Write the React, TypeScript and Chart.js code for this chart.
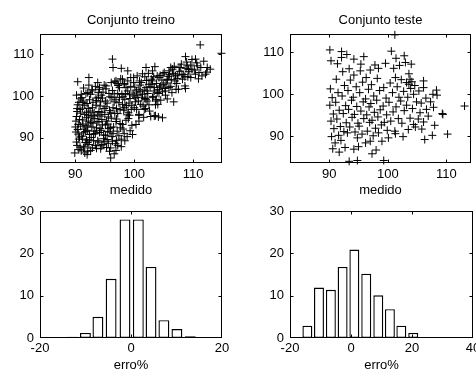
import React, { useEffect, useRef } from 'react';
import { Chart, registerables } from 'chart.js';

Chart.register(...registerables);

// ---------- data ----------
const trainPoints: [number, number][] = [
  [111.2,112.2],[114.8,110.2],[96.3,108.8],[96.4,106.8],[97.8,106.6],[98.9,106],[90.4,103.4],[92.3,104.4],[102,106.8],[103.5,107],
  [106.7,98.6],[108.7,101.8],[112.9,106.4],[111.5,104.8],[110.4,108.8],[108.7,109.4],[103.4,95.2],[104.8,94.8],[100.8,94],[99.7,90.8],
  [96.9,87],[96,85.2],[89.9,86.4],[92.1,86.8],[95.8,86.8],[103.7,99.2],[105.3,100.2],[107.1,101.6],
  [105.1,105.6],[106.2,106.8],[107.6,106.8],[109,107.2],[109.8,106.4],[110.4,105.2],[109.6,104.4],[108.1,105.2],[107,104.8],[105.6,104],
  [104.2,104.4],[103.1,103.6],[102.5,102.8],[103.4,102],[104.5,102.4],[105.9,102],[105.3,101.2],[103.9,100.8],[102.2,101.2],[100.8,101.6],
  [101.4,100.4],[100.3,99.6],[102,99.2],[103.1,99.6],[101.1,98],[100,97.2],[101.7,96.8],[100.8,95.6],[103.7,98.8],[104,98],
  [111,105.6],[112.1,105.2],[110.7,107.2],[112.4,106.8],
  [95.2,102.4],[96.1,103.2],[96.9,103.6],[98,104],[98.9,103.6],[99.4,104.4],[98.3,102.8],[97.5,102],[94.1,102],[92.9,101.2],[92.1,100.8],[91,100.4],[91.3,98.8],
  [90.2,95.1],[90.5,93.2],[90.1,91.4],[90.6,89.7],[90.3,88.2],[90.8,96.8],[90.4,97.9],[90.9,99.3],[91.2,94.3],[91.5,92.1],
  [91.1,90.4],[91.7,88.9],[91.4,87.6],[91.9,96.1],[91.3,98.4],[91.8,100.6],[92.2,95.4],[92.6,93.7],[92.1,91.8],[92.7,90.1],
  [92.3,88.4],[92.9,97.2],[92.4,99.1],[92.8,101.5],[93.3,94.6],[93.6,92.4],[93.1,90.9],[93.8,89.3],[93.5,97.8],[93.2,96.0],
  [93.9,99.7],[93.4,102.3],[94.2,95.2],[94.6,93.1],[94.1,91.3],[94.8,89.8],[94.4,88.1],[94.9,97.0],[94.3,98.6],[94.7,100.9],
  [95.3,94.0],[95.7,92.2],[95.1,90.6],[95.8,96.5],[95.4,98.3],[95.9,99.8],[95.2,101.7],[95.6,88.7],
  [90.0,92.6],[90.7,94.4],[90.3,96.3],[90.9,92.8],[90.5,90.9],[91.0,86.9],[91.6,95.6],[91.2,97.1],[91.8,93.0],[91.4,91.2],
  [91.9,89.5],[92.0,98.2],[92.5,96.4],[92.2,94.0],[92.8,92.6],[92.4,89.5],[92.9,87.6],[93.0,95.3],[93.7,93.8],[93.2,91.6],
  [93.6,98.9],[93.9,100.8],[94.0,96.3],[94.5,94.4],[94.2,92.2],[94.8,90.7],[94.6,99.5],[94.1,101.6],[95.0,95.6],[95.5,93.3],
  [95.2,97.4],[95.9,91.4],[95.4,89.6],[90.6,98.5],[91.1,99.6],[90.2,100.2],[92.6,100.4],[93.8,103.2],[94.9,102.6],[90.8,87.8],
  [91.6,86.4],[93.4,88.2],[94.3,87.4],[92.0,86.0],
  [96.1,94.7],[96.5,92.6],[96.2,90.3],[96.8,88.6],[96.4,97.2],[96.9,99.1],[96.3,101.3],[96.7,103.4],[97.2,95.8],[97.6,93.4],
  [97.1,91.6],[97.8,89.7],[97.4,98.4],[97.9,100.4],[97.3,102.5],[97.7,104.1],[98.2,96.6],[98.6,94.2],[98.1,92.1],[98.8,90.3],
  [98.4,99.2],[98.9,101.2],[98.3,103.0],[98.7,97.7],[99.2,95.4],[99.6,93.0],[99.1,98.3],[99.8,100.7],[99.4,102.3],[99.5,96.8],
  [96.0,96.0],[96.6,98.6],[97.0,97.0],[97.5,99.6],[98.0,98.0],[98.5,100.6],[96.3,89.2],[97.2,88.2],[97.8,87.9],[96.6,86.2],
  [98.3,91.0],[99.0,94.6],[99.3,91.7],[96.9,93.9],[97.7,92.4],
  [100.2,98.6],[100.6,100.2],[100.1,102.1],[100.9,103.6],[100.4,96.8],[100.8,95.4],[101.3,99.7],[101.7,101.4],[101.2,103.2],[101.8,104.6],
  [101.5,97.6],[102.3,100.6],[102.7,102.3],[102.2,98.8],[102.9,104.0],[102.6,96.4],[103.4,101.2],[103.8,103.0],[103.2,99.9],[103.9,104.8],
  [103.6,97.9],[104.3,102.1],[104.7,103.8],[104.2,100.6],[104.9,105.3],[104.5,99.0],[100.0,100.0],[101.0,101.0],[102.0,102.0],[103.0,102.8],
  [100.5,104.8],[101.4,105.3],[99.9,104.4],[102.4,105.4],[103.1,106.0],[100.3,93.2],[101.6,94.9],[102.8,95.1],[103.6,95.3],[104.1,95.0],
  [105.4,103.1],[105.8,104.7],[105.2,101.8],[105.9,106.0],[106.3,103.9],[106.7,105.4],[106.2,102.3],[106.8,107.1],[107.3,104.2],[107.7,105.9],
  [107.2,103.0],[107.9,106.8],[108.4,105.1],[108.8,106.6],[108.2,104.0],[108.9,108.1],[109.3,105.8],[109.6,107.4],[109.1,104.6],[109.8,108.7],
  [105.6,99.3],[106.4,100.8],[107.5,101.6],[108.6,102.4],[110.2,106.2],[110.6,107.9],[111.3,106.8],[111.8,108.3],[110.9,104.1],[112.3,105.7],
  [90.1,94.0],[90.4,92.0],[90.7,90.2],[90.2,89.0],[90.6,87.2],[90.9,95.9],[90.3,97.0],[91.3,93.3],[91.7,91.5],[91.2,89.7],
  [91.5,88.0],[91.9,94.8],[91.6,97.8],[92.0,92.6],[92.4,90.8],[92.1,88.9],[92.6,87.0],[92.7,95.0],[92.2,97.0],[93.0,93.5],
  [93.4,91.0],[93.1,89.3],[93.6,87.5],[93.8,95.5],[93.5,99.5],[94.0,93.9],[94.4,91.8],[94.0,89.0],[94.7,88.4],[94.5,96.1],
  [94.2,97.6],[95.1,93.1],[95.5,91.5],[95.0,89.2],[95.3,87.7],[95.6,95.0],[95.1,98.8],[96.0,92.5],[96.4,91.0],[96.0,87.6],
  [96.7,95.8],[96.2,99.6],[97.0,94.5],[97.4,90.5],[97.0,89.4],[97.6,96.8],[97.2,100.6],[98.0,93.2],[98.4,89.3],[98.8,95.5],
  [98.1,99.8],[99.0,96.0],[99.3,99.4],[99.6,97.8],[96.6,100.5],[95.7,100.6],[94.4,100.2],[93.0,98.5],[92.3,102.6],[91.4,101.9],
  [97.1,103.0],[98.6,102.0],[99.9,103.2],[100.7,98.8],[101.9,97.0],[102.5,97.9],[101.0,102.6],[102.1,103.7],[103.3,104.6],[104.0,101.5],
  [104.8,101.0],[105.0,102.7],[105.6,103.8],[106.0,105.1],[106.9,103.6],[107.4,105.0],[108.0,107.6],[108.6,104.6],[109.2,106.3],[104.4,104.9],
  [106.5,106.4],[101.8,99.4],[100.4,101.2],[99.2,100.3],[98.4,97.2]
];

const testPoints: [number, number][] = [
  [90.1,110.6],[92.1,110.2],[101.2,114.2],[90.3,108],[92.1,108.8],[94.2,108.4],[95.9,109],[95.4,107.2],[97.8,107],[99.6,107.4],
  [101.4,108.6],[103,107.6],[113.1,97.2],[109.3,95.4],[107.7,100],[108.4,99.8],[106.1,103.2],[106.1,93.4],[107.6,90.2],[106.3,89.2],
  [97.3,85.8],[93.4,84],[94.8,84.2],[99.3,84.2],[91.7,86.2],[90.6,87],[103.2,102.8],[103.6,102.4],[101.3,104],[106.1,101.6],
  [104.4,100],[103.2,97.4],[105.5,95.6],[106.6,96.4],[104.4,92.8],[103.5,91.6],[101.3,90.6],[101.2,91.2],[100.1,89.6],[99,88.8],
  [97,88.8],[94.8,89.6],[93.1,90.8],
  [90.2,101.3],[90.5,99.2],[90.1,97.4],[90.7,95.3],[90.3,93.6],[90.8,91.8],[90.4,89.9],[91.2,103.6],[91.5,100.4],[91.1,98.1],
  [91.7,96.2],[91.3,94.1],[91.9,92.3],[91.6,90.2],[91.0,88.4],[92.3,105.4],[92.6,102.1],[92.2,99.6],[92.8,97.3],[92.4,95.4],
  [92.9,93.2],[92.5,91.1],[92.0,89.0],[92.7,87.3],[93.4,106.1],[93.6,103.4],[93.2,100.9],[93.8,98.6],[93.3,96.4],[93.9,94.5],
  [93.5,92.2],[94.2,104.6],[94.6,101.8],[94.1,99.3],[94.7,97.1],[94.3,95.2],[94.9,93.1],[94.4,91.0],[95.3,105.6],[95.7,102.9],
  [95.2,100.4],[95.8,98.2],[95.4,96.0],[95.9,94.2],[95.1,92.4],[95.6,90.5],[96.3,104.0],[96.7,101.2],[96.2,98.9],[96.8,97.0],
  [96.4,95.1],[96.9,93.3],[96.5,91.2],[97.2,102.3],[97.6,99.6],[97.1,97.8],[97.7,95.7],[97.3,93.8],[97.9,91.9],[97.5,90.1],
  [98.2,103.8],[98.6,100.9],[98.1,98.6],[98.7,96.3],[98.3,94.6],[98.9,92.7],[98.4,90.8],[99.3,101.6],[99.7,99.1],[99.2,97.2],
  [99.8,95.1],[99.4,93.3],[99.9,91.4],[95.0,87.5],[96.2,88.4],[98.0,86.7],[94.2,86.9],[97.0,105.8],[98.4,106.2],[93.0,109.5],[91.4,107.3],
  [100.4,102.7],[100.8,100.4],[100.2,98.1],[100.9,95.8],[100.5,93.6],[101.6,101.8],[101.9,99.3],[101.4,97.0],[101.8,94.2],[102.3,103.5],
  [102.7,100.7],[102.2,98.4],[102.8,96.1],[102.4,93.1],[102.6,89.9],[103.6,104.9],[103.9,101.4],[103.4,99.3],[103.8,94.3],[104.6,102.1],
  [104.9,98.2],[104.2,96.6],[104.7,92.2],[105.3,100.8],[105.7,97.9],[105.2,94.1],[105.8,91.7],[106.5,99.1],[106.9,94.8],[107.3,98.2],
  [107.8,96.9],[108.3,101.0],[109.4,95.2],[110.2,90.5],[108.0,92.6],[101.0,106.2],[102.0,106.9],[104.0,107.2],[100.6,110.3],[102.8,109.2],
  [103.8,103.6],[104.1,103.0]
];

const histTrainCenters = [-12.84, -10.02, -7.27, -4.37, -1.32, 1.61, 4.4, 7.23, 10.09, 13.03];
const histTrainCounts = [0.3, 1.2, 5.0, 14.0, 28.0, 28.0, 16.8, 4.2, 2.1, 0.4];
const histTestCenters = [-14.3, -10.5, -6.6, -2.75, 1.1, 5.0, 8.95, 12.75, 16.5, 20.4];
const histTestCounts = [2.9, 11.9, 11.4, 16.8, 20.9, 15.2, 10.1, 6.8, 2.9, 1.2];

const scatterTicks = [90, 100, 110];
const histTrainXTicks = [-20, 0, 20];
const histTestXTicks = [-20, 0, 20, 40];
const histYTicks = [0, 10, 20, 30];

const titleTrain = 'Conjunto treino';
const titleTest = 'Conjunto teste';
const labelMedido = 'medido';
const labelErro = 'erro%';

// ---------- styling helpers ----------
const FONT = '"Liberation Sans", Arial, Helvetica, sans-serif';
const TICK_FONT = { family: FONT, size: 13 };
const LABEL_FONT = { family: FONT, size: 13 };

const boxPlugin = {
  id: 'matlabBox',
  afterDraw(chart: any) {
    const { ctx, chartArea: a, scales } = chart;
    const L = Math.round(a.left) + 0.5;
    const R = Math.round(a.right) - 0.5;
    const T = Math.round(a.top) + 0.5;
    const B = Math.round(a.bottom) - 0.5;
    ctx.save();
    ctx.strokeStyle = '#000';
    ctx.lineWidth = 1;
    ctx.strokeRect(L, T, R - L, B - T);
    ctx.beginPath();
    const tl = 3;
    scales.x.ticks.forEach((t: any) => {
      const p = Math.round(scales.x.getPixelForValue(t.value)) + 0.5;
      if (p <= L + 1 || p >= R - 1) return;
      ctx.moveTo(p, B); ctx.lineTo(p, B - tl);
      ctx.moveTo(p, T); ctx.lineTo(p, T + tl);
    });
    scales.y.ticks.forEach((t: any) => {
      const p = Math.round(scales.y.getPixelForValue(t.value)) + 0.5;
      if (p <= T + 1 || p >= B - 1) return;
      ctx.moveTo(L, p); ctx.lineTo(L + tl, p);
      ctx.moveTo(R, p); ctx.lineTo(R - tl, p);
    });
    ctx.stroke();
    ctx.restore();
  },
};

function axis(opts: {
  pos: 'x' | 'y';
  min: number;
  max: number;
  ticks: number[];
  size: number;
  title?: string;
  tickPad: number;
  titlePadBottom?: number;
}) {
  return {
    type: 'linear',
    position: opts.pos === 'x' ? 'bottom' : 'left',
    min: opts.min,
    max: opts.max,
    grid: { display: false, drawTicks: false },
    border: { display: false },
    ticks: { color: '#000', font: TICK_FONT, padding: opts.tickPad, maxRotation: 0, autoSkip: false },
    title: opts.title
      ? { display: true, text: opts.title, color: '#000', font: LABEL_FONT, padding: { top: 0, bottom: opts.titlePadBottom ?? 0 } }
      : { display: false },
    afterBuildTicks: (scale: any) => {
      scale.ticks = opts.ticks.map((v) => ({ value: v }));
    },
    afterFit: (scale: any) => {
      if (opts.pos === 'x') scale.height = opts.size;
      else scale.width = opts.size;
      scale.paddingLeft = 0;
      scale.paddingRight = 0;
      scale.paddingTop = 0;
      scale.paddingBottom = 0;
    },
  };
}

function scatterConfig(points: [number, number][], title: string, yAxisWidth: number, padRight: number, xr: [number, number], yr: [number, number]) {
  return {
    type: 'scatter',
    data: {
      datasets: [
        {
          data: points.map(([x, y]) => ({ x, y })),
          pointStyle: 'cross',
          pointRadius: 4,
          pointBorderWidth: 1,
          borderColor: '#000',
          backgroundColor: '#000',
          clip: false,
        },
      ],
    },
    options: {
      animation: false,
      responsive: false,
      devicePixelRatio: 1,
      events: [],
      layout: { padding: { left: 0, right: padRight, top: 0, bottom: 0 } },
      plugins: {
        legend: { display: false },
        tooltip: { enabled: false },
        title: {
          display: true,
          text: title,
          color: '#000',
          font: { family: FONT, size: 13, weight: 'normal' },
          fullSize: false,
          padding: { top: 12.2, bottom: 6.2 },
        },
      },
      scales: {
        x: axis({ pos: 'x', min: xr[0], max: xr[1], ticks: scatterTicks, size: 37, title: labelMedido, tickPad: 4, titlePadBottom: 1.5 }),
        y: axis({ pos: 'y', min: yr[0], max: yr[1], ticks: scatterTicks, size: yAxisWidth, tickPad: 6 }),
      },
    },
    plugins: [boxPlugin],
  };
}

function histConfig(centers: number[], counts: number[], xTicks: number[], xr: [number, number], yAxisWidth: number, padRight: number, barPct: number) {
  return {
    type: 'bar',
    data: {
      datasets: [
        {
          data: centers.map((c, i) => ({ x: c, y: counts[i] })),
          backgroundColor: '#fff',
          borderColor: '#000',
          borderWidth: 1.4,
          borderSkipped: false,
          barPercentage: barPct,
          categoryPercentage: 1,
        },
      ],
    },
    options: {
      animation: false,
      responsive: false,
      devicePixelRatio: 1,
      events: [],
      layout: { padding: { left: 0, right: padRight, top: 11, bottom: 0 } },
      plugins: { legend: { display: false }, tooltip: { enabled: false }, title: { display: false } },
      scales: {
        x: { ...axis({ pos: 'x', min: xr[0], max: xr[1], ticks: xTicks, size: 34, title: labelErro, tickPad: 3, titlePadBottom: -1.5 }), offset: false },
        y: axis({ pos: 'y', min: 0, max: 30, ticks: histYTicks, size: yAxisWidth, tickPad: 6 }),
      },
    },
    plugins: [boxPlugin],
  };
}

function Panel({ config, left, top, width, height }: { config: any; left: number; top: number; width: number; height: number }) {
  const ref = useRef<HTMLCanvasElement | null>(null);
  useEffect(() => {
    if (!ref.current) return;
    const chart = new Chart(ref.current, config);
    return () => chart.destroy();
  }, [config]);
  return (
    <canvas
      ref={ref}
      width={width}
      height={height}
      style={{ position: 'absolute', left, top, width, height }}
    />
  );
}

const cfgTL = scatterConfig(trainPoints, titleTrain, 40, 16, [84, 114.9], [84, 114.8]);
const cfgTR = scatterConfig(testPoints, titleTest, 52, 3, [83.3, 114.2], [83.6, 114.4]);
const cfgBL = histConfig(histTrainCenters, histTrainCounts, histTrainXTicks, [-20, 20], 40, 16, 0.87);
const cfgBR = histConfig(histTestCenters, histTestCounts, histTestXTicks, [-20, 40], 52, 3, 0.87);

export default function App() {
  return (
    <div style={{ position: 'absolute', left: 0, top: 0, width: 476, height: 372, background: '#fff', overflow: 'hidden' }}>
      <Panel config={cfgTL} left={0} top={0} width={238} height={200} />
      <Panel config={cfgTR} left={238} top={0} width={238} height={200} />
      <Panel config={cfgBL} left={0} top={200} width={238} height={172} />
      <Panel config={cfgBR} left={238} top={200} width={238} height={172} />
    </div>
  );
}
